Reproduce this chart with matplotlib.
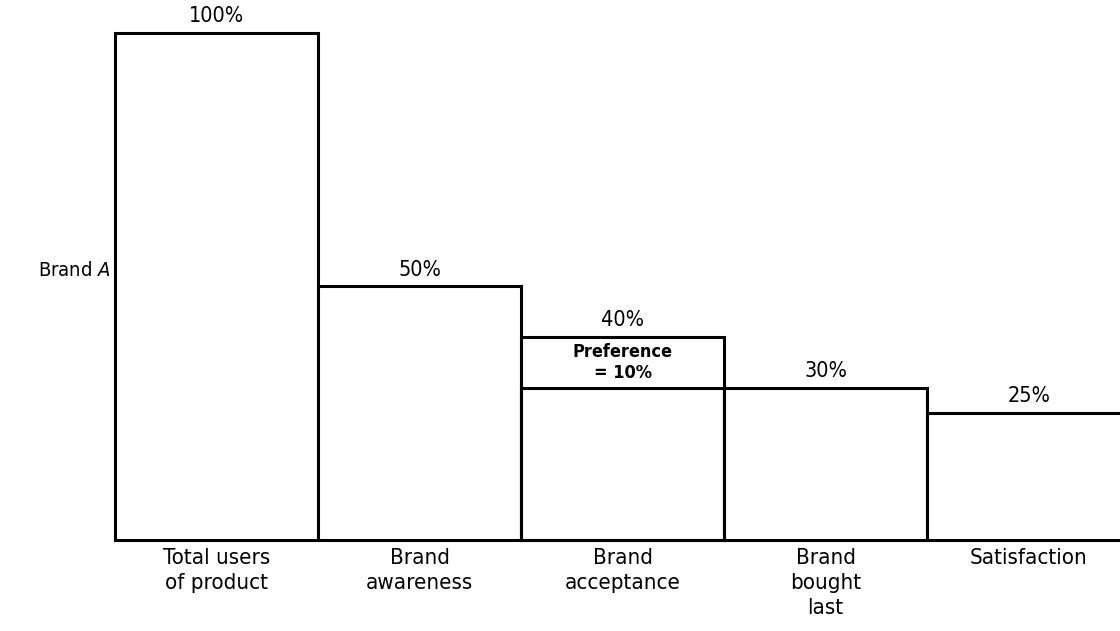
import matplotlib.pyplot as plt

plt.rcParams["font.family"] = ["DejaVu Sans"]
plt.rcParams["font.stretch"] = "condensed"

stages = [
    "Total users\nof product",
    "Brand\nawareness",
    "Brand\nacceptance",
    "Brand\nbought\nlast",
    "Satisfaction",
]
percents = [100, 50, 40, 30, 25]
preference = 10
pref_stage = 2

fig = plt.figure(figsize=(11.2, 6.31), dpi=100)
ax = fig.add_axes([0, 0, 1, 1])
ax.set_xlim(-1.067, 4.45)
ax.set_ylim(-17.95, 106.5)
ax.axis("off")

x = list(range(len(stages)))
ax.bar(x, percents, width=1.0, facecolor="white", edgecolor="black", linewidth=2.2)

# preference slice sits on top of the part of acceptance that carries through
ax.bar(pref_stage, percents[pref_stage] - preference, width=1.0,
       facecolor="none", edgecolor="black", linewidth=2.2)
ax.text(pref_stage, percents[pref_stage] - preference / 2, f"Preference\n= {preference}%",
        ha="center", va="center", fontsize=13, fontweight="bold", linespacing=1.2)

for xi, p in zip(x, percents):
    ax.annotate(f"{p}%", (xi, p), xytext=(0, 5), textcoords="offset points",
                ha="center", va="bottom", fontsize=15.5, fontweight="medium")

for xi, s in zip(x, stages):
    ax.annotate(s, (xi, 0), xytext=(0, -6), textcoords="offset points",
                ha="center", va="top", fontsize=16, linespacing=1.3)

ax.text(0.034, 0.572, "Brand $\\mathit{A}$", transform=ax.transAxes,
        ha="left", va="center", fontsize=14.5)

fig.savefig("out.png", dpi=100)
